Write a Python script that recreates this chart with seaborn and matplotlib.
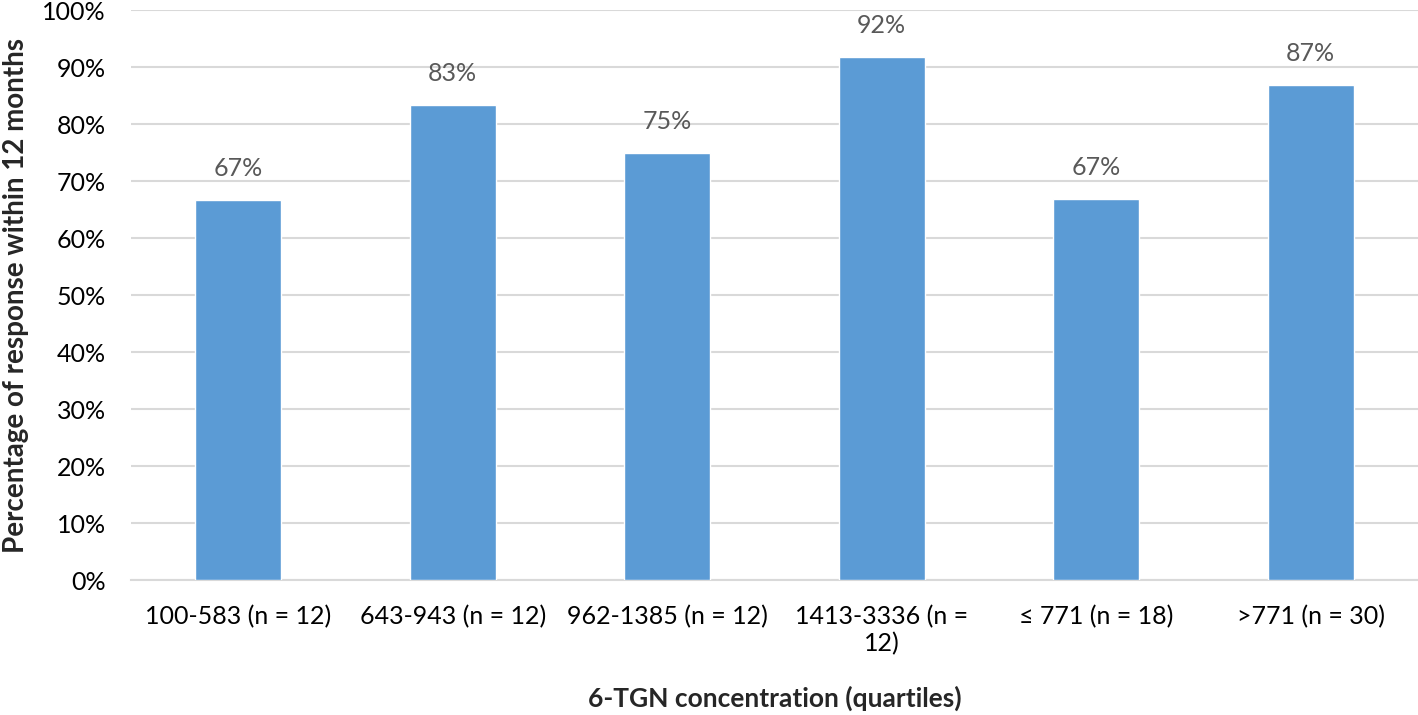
import matplotlib
matplotlib.use("Agg")
import matplotlib.pyplot as plt
import seaborn as sns
import pandas as pd
from matplotlib.ticker import PercentFormatter

categories = ["100-583 (n = 12)", "643-943 (n = 12)", "962-1385 (n = 12)",
              "1413-3336 (n =\n12)", "≤ 771 (n = 18)", ">771 (n = 30)"]
values = [66.7, 83.3, 75.0, 91.7, 66.8, 86.8]
labels = ["67%", "83%", "75%", "92%", "67%", "87%"]

sns.set_theme(style="white")
plt.rcParams['font.family'] = ['Lato', 'DejaVu Sans']

df = pd.DataFrame({"cat": categories, "val": values})

fig = plt.figure(figsize=(14.18, 7.15), dpi=100)
ax = fig.add_axes([0.0924, 0.1888, 0.9076, 0.7972])
sns.barplot(data=df, x="cat", y="val", color="#5B9BD5", width=0.4, ax=ax,
            saturation=1, zorder=3)

for i, (v, lab) in enumerate(zip(values, labels)):
    ax.text(i, v + 3.5, lab, ha="center", va="bottom", fontsize=18, color="#595959")

ax.set_ylim(0, 100)
ax.set_xlim(-0.5, 5.5)
ax.set_yticks(range(0, 101, 10))
ax.yaxis.set_major_formatter(PercentFormatter(decimals=0))
ax.grid(axis="y", color="#D9D9D9", linewidth=1.5, zorder=0)
for s in ["top", "right", "left"]:
    ax.spines[s].set_visible(False)
ax.spines["bottom"].set_color("#D9D9D9")
ax.spines["bottom"].set_linewidth(1.5)
ax.tick_params(axis="both", labelsize=18, colors="black", length=0)
ax.tick_params(axis="x", pad=18)
ax.tick_params(axis="y", pad=18)
ax.set_xlabel("6-TGN concentration (quartiles)", fontsize=19, fontweight="bold")
ax.set_ylabel("Percentage of response within 12 months", fontsize=20, fontweight="bold")
ax.xaxis.set_label_coords(0.5, -0.185)
ax.yaxis.set_label_coords(-0.079, 0.5)
ax.xaxis.label.set_va("top")

fig.savefig("out.png", dpi=100)
